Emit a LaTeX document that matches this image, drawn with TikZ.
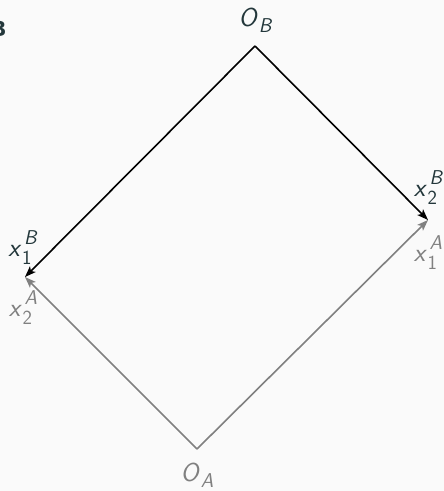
\documentclass[tikz,border=0pt]{standalone}
\usepackage{fontspec}
\newfontfamily\firafont{Fira Sans}
\usetikzlibrary{arrows.meta,positioning}
\definecolor{SlateText}{RGB}{35,55,59}
\definecolor{BoxGray}{RGB}{128,128,128}
\definecolor{PageBg}{RGB}{250,250,250}
\newcommand{\scr}{\fontsize{20}{24}\selectfont}
\newcommand{\origin}[2]{\textsl{#1}\kern0.5pt\raisebox{-6pt}{\scr\slshape #2}}
\newcommand{\bundle}[3]{\textsl{#1}\kern0.5pt\rlap{\raisebox{-8pt}{\scr #2}}\kern2pt\raisebox{12pt}{\scr\slshape #3}}

\begin{document}
\begin{tikzpicture}[x=1pt,y=1pt,>={Stealth[length=11pt,width=8pt,inset=2.5pt]},
    lbl/.style={text=SlateText,font=\fontsize{26}{31}\selectfont\sffamily,inner sep=0pt},
    lblA/.style={lbl,text=BoxGray},
    axisA/.style={->,BoxGray,line width=1.6pt},
    axisB/.style={->,black,line width=1.6pt}]
  \fill[PageBg] (0,0) rectangle (444,491);
  \useasboundingbox (0,0) rectangle (444,491);
  \node[text=SlateText,font=\fontsize{22}{26}\firafont\bfseries,inner sep=0pt,
    anchor=base east] (cut) at (6,454) {B};
  % corners of the box
  \coordinate (OA) at (197,42);
  \coordinate (OB) at (255,445);
  \coordinate (L) at (25,214);
  \coordinate (R) at (428,271);
  \draw[axisA] (OA) -- (R);
  \draw[axisA] (OA) -- (L);
  \draw[axisB] (OB) -- (L);
  \draw[axisB] (OB) -- (R);
  \node[lbl,above=13pt of OB] (lOB) {\origin{O}{B}};
  \node[lblA,below=14pt of OA] (lOA) {\origin{O}{A}};
  \node[lbl,above=12pt of L,xshift=-2.5pt] (x1B) {\bundle{x}{1}{B}};
  \node[lblA,below=13pt of L,xshift=-2pt] (x2A) {\bundle{x}{2}{A}};
  \node[lbl,above=15pt of R] (x2B) {\bundle{x}{2}{B}};
  \node[lblA,below=15pt of R] (x1A) {\bundle{x}{1}{A}};
\end{tikzpicture}
\end{document}
